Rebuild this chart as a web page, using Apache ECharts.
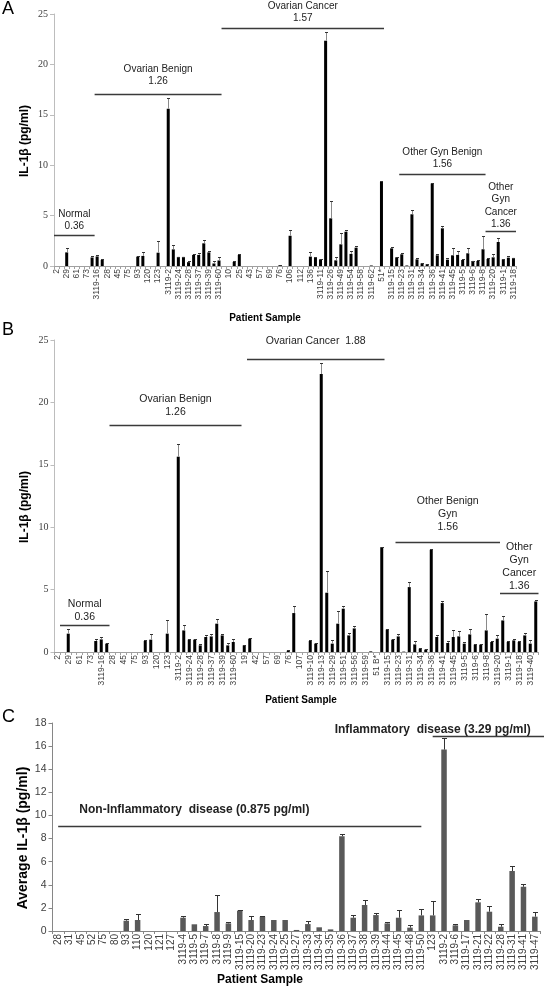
<!DOCTYPE html>
<html>
<head>
<meta charset="utf-8">
<script src="https://cdn.jsdelivr.net/npm/echarts@6/dist/echarts.min.js"></script>
<style>
html,body{margin:0;padding:0;background:#fff;}
#chart{width:544px;height:989px;}
</style>
</head>
<body>
<div id="chart"></div>
<script>
// ---------------- DATA ----------------
const catsA = ["2","14","29","47","61","68","73","3119-14","3119-16","3119-19",
"28","31","45","52","75","80","93","110","120","121",
"123","127","3119-2","3119-22","3119-24","3119-25","3119-28","3119-32","3119-37","3119-38",
"3119-39","3119-48","3119-60","3","10","19","25","42","43","54",
"57","64","69","72","76","102","106","107","112","130",
"136","3119-10","3119-11","3119-13","3119-26","3119-29","3119-49","3119-51","3119-54","3119-56",
"3119-58","3119-59","3119-62","51 B*","51*","3119-3","3119-15","3119-17","3119-23","3119-27",
"3119-31","3119-33","3119-34","3119-35","3119-36","3119-4","3119-41","3119-44","3119-45","3119-47",
"3119-5","3119-50","3119-6","3119-7","3119-8","3119-9","3119-20","3119-21","3119-1","3119-12",
"3119-18"];
const valuesA = [0,0,1.35,0,0,0,0,0.85,0.95,0.6,
0,0,0,0,0,0,0.93,1.0,0,0,
1.32,0,15.6,1.65,0.9,0.9,0.38,1.1,1.1,2.25,
1.35,0.25,0.55,0,0,0.4,1.1,0,0,0,
0,0,0,0,0.08,0,3.0,0,0,0,
0.93,0.83,0.66,22.35,4.73,0.56,2.15,3.4,1.2,1.82,
0,0,0.05,0,8.38,0,1.75,0.86,1.16,0.05,
5.13,0.66,0.26,0.17,8.18,1.06,3.74,0.63,1.06,1.1,
0.6,1.26,0.5,0.5,1.66,0.7,0.86,2.38,0.66,0.83,
0.8];
const errorsA = [0,0,0.4,0,0,0,0,0.15,0.15,0.05,
0,0,0,0,0,0,0.07,0.4,0,0,
1.2,0,1.05,0.45,0.03,0.03,0.15,0.08,0.15,0.3,
0.1,0.2,0.38,0,0,0.13,0.05,0,0,0,
0,0,0,0,0.05,0,0.6,0,0,0,
0.43,0.03,0.03,0.85,1.7,0.3,1.1,0.17,0.3,0.13,
0,0,0,0,0.05,0,0.1,0.03,0.1,0,
0.43,0.14,0.03,0.02,0.1,0.14,0.26,0.13,0.69,0.4,
0.05,0.49,0.03,0.06,1.34,0.05,0.3,0.37,0.05,0.13,
0.03];
const groupLabelsA = ["Normal\n0.36","Ovarian Benign\n1.26","Ovarian Cancer\n1.57","Other Gyn Benign\n1.56","Other\nGyn\nCancer\n1.36"];
const groupStartA = [0, 8, 33, 68, 85];
const groupEndA = [7, 32, 64, 84, 90];
const groupLevelA = [3.1, 17.1, 23.6, 9.1, 3.5];

const catsB = ["2","14","29","47","61","68","73","3119-14","3119-16","3119-19",
"28","31","45","52","75","80","93","110","120","121",
"123","127","3119-2","3119-22","3119-24","3119-25","3119-28","3119-32","3119-37","3119-38",
"3119-39","3119-48","3119-60","10","19","25","42","43","57","64",
"69","72","76","106","107","112","3119-10","3119-11","3119-13","3119-26",
"3119-29","3119-49","3119-51","3119-54","3119-56","3119-58","3119-59","3119-62","51 B*","51*",
"3119-15","3119-17","3119-23","3119-27","3119-31","3119-33","3119-34","3119-35","3119-36","3119-4",
"3119-41","3119-44","3119-45","3119-47","3119-5","3119-50","3119-6","3119-7","3119-8","3119-9",
"3119-20","3119-21","3119-1","3119-12","3119-18","3119-30","3119-40","3119-43"];
const valuesB = [0,0,1.47,0,0,0,0,0.88,1.01,0.67,
0,0,0,0,0,0,0.88,0.99,0,0,
1.47,0,15.65,1.73,0.99,0.99,0.53,1.2,1.25,2.27,
1.33,0.53,0.8,0,0.53,1.07,0,0,0,0,
0,0,0.1,3.12,0,0,0.88,0.67,22.27,4.75,
0.67,2.27,3.47,1.33,1.89,0,0,0.05,0,8.4,
1.79,0.99,1.25,0.03,5.2,0.61,0.27,0.19,8.19,1.2,
3.92,0.72,1.2,1.25,0.67,1.41,0.59,0.59,1.73,0.8,
1.07,2.53,0.8,0.93,0.8,1.33,0.67,4.05];
const errorsB = [0,0,0.4,0,0,0,0,0.19,0.19,0.05,
0,0,0,0,0,0,0.07,0.48,0,0,
1.06,0,1.02,0.4,0.03,0.03,0.14,0.13,0.22,0.4,
0.14,0.19,0.27,0,0.07,0.05,0,0,0,0,
0,0,0.05,0.53,0,0,0.05,0.03,0.85,1.78,
0.26,1.01,0.18,0.19,0.16,0,0,0,0,0.05,
0.08,0.05,0.16,0,0.4,0.27,0.03,0.02,0.08,0.13,
0.13,0.16,0.59,0.43,0.13,0.46,0.05,0.05,1.34,0.05,
0.26,0.32,0.05,0.14,0.05,0.19,0.26,0.14];
const groupLabelsB = ["Normal\n0.36","Ovarian Benign\n1.26","Ovarian Cancer  1.88","Other Benign\nGyn\n1.56","Other\nGyn\nCancer\n1.36"];
const groupStartB = [1, 10, 35, 62, 81];
const groupEndB = [9, 33, 59, 80, 87];
const groupLevelB = [2.2, 18.2, 23.5, 8.85, 4.7];

const catsC = ["28","31","45","52","75","80","93","110","120","121",
"127","3119-4","3119-5","3119-7","3119-8","3119-9","3119-15","3119-20","3119-23","3119-24",
"3119-25","3119-27","3119-33","3119-34","3119-35","3119-36","3119-37","3119-38","3119-39","3119-44",
"3119-45","3119-48","3119-50","123","3119-2","3119-6","3119-17","3119-21","3119-22","3119-28",
"3119-31","3119-41","3119-47"];
const valuesC = [0,0,0,0,0,0,0.89,0.95,0,0,
0,1.15,0.58,0.43,1.64,0.66,1.76,0.95,1.24,0.95,
0.95,0.09,0.6,0.32,0.14,8.2,1.15,2.25,1.38,0.66,
1.15,0.29,1.35,1.35,15.7,0.49,0.95,2.48,1.67,0.37,
5.19,3.83,1.24];
const errorsC = [0,0,0,0,0,0,0.11,0.52,0,0,
0,0.12,0,0.15,1.44,0.09,0.06,0.35,0.09,0,
0,0,0.26,0,0,0.16,0.2,0.43,0.15,0.09,
0.67,0.23,0.55,1.25,1.04,0.09,0,0.32,0.52,0.21,
0.43,0.2,0.43];
const groupLabelsC = ["Non-Inflammatory  disease (0.875 pg/ml)","Inflammatory  disease (3.29 pg/ml)"];
const groupStartC = [0, 33];
const groupEndC = [32, 42];
const groupLevelC = [9.05, 16.9];
const groupLabelAtC = [12, 33];

const ticksAB = {min: 0, max: 25, interval: 5};
const ticksC = {min: 0, max: 18, interval: 2};

// ---------------- STYLE / LAYOUT ----------------
const SANS = '"Liberation Sans", Arial, sans-serif';
const SERIF = '"Liberation Serif", "Times New Roman", serif';
const layout = {
  A: {lift: [9, 13, 10, 10, 7], lh: 12.5, font: '10px ' + SANS, mode: 'edge'},
  B: {lift: [8, 13.5, 18, 15, 7], lh: 13, font: '10.5px ' + SANS, mode: 'edge'},
  C: {lift: [17, 7], lh: 14, font: 'bold 12px ' + SANS, mode: 'center', extendRight: [false, true]}
};

function errRender(stroke, capStroke, cap) {
  return function (params, api) {
    const err = api.value(2);
    if (!err) return null;
    const x = api.value(0), v = api.value(1);
    const b = api.coord([x, v]);
    const t = api.coord([x, v + err]);
    const cx = Math.round(b[0]) + 0.5;
    const ty = Math.round(t[1]) + 0.5;
    return {
      type: 'group',
      children: [
        {type: 'line', shape: {x1: cx, y1: b[1], x2: cx, y2: ty}, style: {stroke: stroke, lineWidth: 1}},
        {type: 'line', shape: {x1: cx - cap, y1: ty, x2: cx + cap, y2: ty}, style: {stroke: capStroke, lineWidth: 1}}
      ]
    };
  };
}

function groupRender(labels, cfg, labelAt) {
  return function (params, api) {
    const i = params.dataIndex;
    const s = api.value(0), lvl = api.value(1), e = api.value(2);
    const band = api.size([1, 0])[0];
    const p1 = api.coord([s, lvl]);
    const p2 = api.coord([e, lvl]);
    let x1, x2;
    if (cfg.mode === 'edge') { x1 = p1[0] - band / 2; x2 = p2[0] + band / 2; }
    else { x1 = p1[0]; x2 = p2[0]; }
    if (cfg.extendRight && cfg.extendRight[i]) x2 = api.getWidth();
    const y = Math.round(p1[1]) + 0.5;
    const tx = labelAt ? api.coord([labelAt[i], lvl])[0] : (x1 + x2) / 2;
    return {
      type: 'group',
      children: [
        {type: 'line', shape: {x1: x1, y1: y, x2: x2, y2: y}, style: {stroke: '#3a3a3a', lineWidth: 1.5}},
        {type: 'text', style: {
          text: labels[i], x: tx, y: y - cfg.lift[i] + cfg.lh / 2,
          align: 'center', verticalAlign: 'bottom',
          font: cfg.font, fill: '#222', lineHeight: cfg.lh
        }}
      ]
    };
  };
}

function catAxis(idx, cats, fontSize, every, color) {
  return {
    gridIndex: idx, type: 'category', data: cats,
    axisLine: {show: true, lineStyle: {color: color, width: 1}},
    axisTick: {show: true, interval: 0, length: 3, lineStyle: {color: color}},
    axisLabel: {interval: every, rotate: 90, fontSize: fontSize, fontFamily: SANS, color: '#404040', margin: 3},
    splitLine: {show: false}
  };
}
function valAxis(idx, ticks, font, fontSize, color, margin) {
  return {
    gridIndex: idx, type: 'value', min: ticks.min, max: ticks.max, interval: ticks.interval,
    axisLine: {show: true, lineStyle: {color: color}},
    axisTick: {show: true, length: 4, lineStyle: {color: color}},
    axisLabel: {fontFamily: font, fontSize: fontSize, color: '#404040', margin: margin},
    splitLine: {show: false}
  };
}

const chart = echarts.init(document.getElementById('chart'), null, {renderer: 'canvas'});
const option = {
  animation: false,
  backgroundColor: '#fff',
  grid: [
    {left: 54, top: 14, width: 462, height: 252},
    {left: 54.5, top: 340, width: 484, height: 312},
    {left: 52.5, top: 723, width: 488, height: 208}
  ],
  xAxis: [
    catAxis(0, catsA, 8.5, 1, '#a0a0a0'),
    catAxis(1, catsB, 8.5, 1, '#a0a0a0'),
    catAxis(2, catsC, 10, 0, '#868686')
  ],
  yAxis: [
    valAxis(0, ticksAB, SERIF, 10, '#bdbdbd', 6),
    valAxis(1, ticksAB, SERIF, 10, '#bdbdbd', 6),
    valAxis(2, ticksC, SANS, 10.5, '#868686', 6)
  ],
  series: [
    {type: 'bar', xAxisIndex: 0, yAxisIndex: 0, data: valuesA, barWidth: 3, itemStyle: {color: '#000'}, silent: true},
    {type: 'custom', xAxisIndex: 0, yAxisIndex: 0, data: valuesA.map((v, i) => [i, v, errorsA[i]]),
      encode: {x: 0, y: 1}, renderItem: errRender('#8a8a8a', '#333', 1.5), z: 5, clip: false, silent: true},
    {type: 'custom', xAxisIndex: 0, yAxisIndex: 0, data: groupStartA.map((s, i) => [s, groupLevelA[i], groupEndA[i]]),
      encode: {x: 0, y: 1}, renderItem: groupRender(groupLabelsA, layout.A, null), z: 6, clip: false, silent: true},

    {type: 'bar', xAxisIndex: 1, yAxisIndex: 1, data: valuesB, barWidth: 3, itemStyle: {color: '#000'}, silent: true},
    {type: 'custom', xAxisIndex: 1, yAxisIndex: 1, data: valuesB.map((v, i) => [i, v, errorsB[i]]),
      encode: {x: 0, y: 1}, renderItem: errRender('#8a8a8a', '#333', 1.5), z: 5, clip: false, silent: true},
    {type: 'custom', xAxisIndex: 1, yAxisIndex: 1, data: groupStartB.map((s, i) => [s, groupLevelB[i], groupEndB[i]]),
      encode: {x: 0, y: 1}, renderItem: groupRender(groupLabelsB, layout.B, null), z: 6, clip: false, silent: true},

    {type: 'bar', xAxisIndex: 2, yAxisIndex: 2, data: valuesC, barWidth: 5.5, itemStyle: {color: '#595959'}, silent: true},
    {type: 'custom', xAxisIndex: 2, yAxisIndex: 2, data: valuesC.map((v, i) => [i, v, errorsC[i]]),
      encode: {x: 0, y: 1}, renderItem: errRender('#333', '#333', 2.5), z: 5, clip: false, silent: true},
    {type: 'custom', xAxisIndex: 2, yAxisIndex: 2, data: groupStartC.map((s, i) => [s, groupLevelC[i], groupEndC[i]]),
      encode: {x: 0, y: 1}, renderItem: groupRender(groupLabelsC, layout.C, groupLabelAtC), z: 6, clip: false, silent: true}
  ],
  graphic: [
    {type: 'text', x: 2, y: 9, style: {text: 'A', font: '18px ' + SANS, fill: '#000', verticalAlign: 'middle'}},
    {type: 'text', x: 2, y: 330, style: {text: 'B', font: '18px ' + SANS, fill: '#000', verticalAlign: 'middle'}},
    {type: 'text', x: 2, y: 717, style: {text: 'C', font: '18px ' + SANS, fill: '#000', verticalAlign: 'middle'}},
    {type: 'text', x: 25, y: 141, rotation: Math.PI / 2, style: {text: 'IL-1β (pg/ml)', font: 'bold 12px ' + SANS, fill: '#000', align: 'center', verticalAlign: 'middle'}},
    {type: 'text', x: 25, y: 507, rotation: Math.PI / 2, style: {text: 'IL-1β (pg/ml)', font: 'bold 12px ' + SANS, fill: '#000', align: 'center', verticalAlign: 'middle'}},
    {type: 'text', x: 23, y: 838, rotation: Math.PI / 2, style: {text: 'Average IL-1β (pg/ml)', font: 'bold 14px ' + SANS, fill: '#000', align: 'center', verticalAlign: 'middle'}},
    {type: 'text', x: 265, y: 318, style: {text: 'Patient Sample', font: 'bold 10px ' + SANS, fill: '#000', align: 'center', verticalAlign: 'middle'}},
    {type: 'text', x: 301, y: 700, style: {text: 'Patient Sample', font: 'bold 10px ' + SANS, fill: '#000', align: 'center', verticalAlign: 'middle'}},
    {type: 'text', x: 260, y: 980, style: {text: 'Patient Sample', font: 'bold 12px ' + SANS, fill: '#000', align: 'center', verticalAlign: 'middle'}}
  ]
};
chart.setOption(option);
</script>
</body>
</html>
